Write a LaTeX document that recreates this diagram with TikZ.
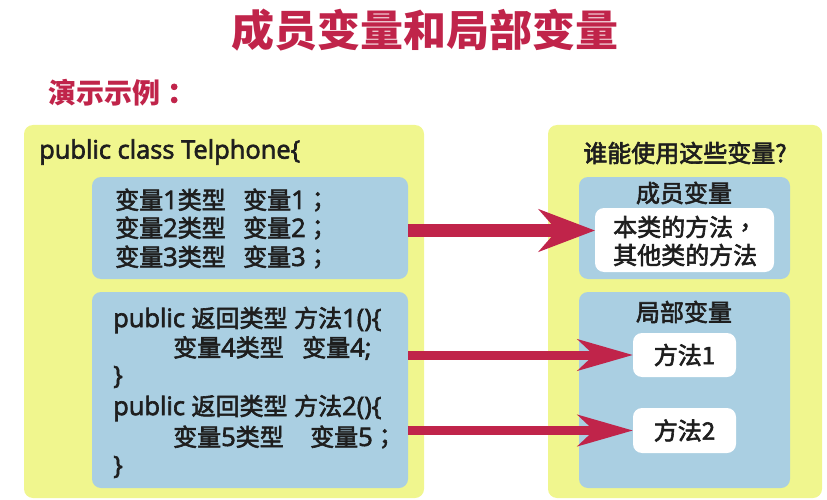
\documentclass[tikz,border=0pt]{standalone}
\usepackage{fontspec}
\setmainfont{Open Sans}[FakeBold=2.5,Scale=1.06]
\newfontfamily\cjk{Noto Sans CJK SC}[FakeBold=2.5]
\newfontfamily\cjktitle{Noto Sans CJK SC}
\newfontfamily\cjkp{Noto Sans CJK TC}[FakeBold=2.5]
\usetikzlibrary{arrows.meta}
\definecolor{crim}{RGB}{192,36,74}
\definecolor{ylw}{RGB}{240,246,142}
\definecolor{blu}{RGB}{170,207,226}
\definecolor{ink}{RGB}{30,30,30}
\newcommand{\zh}[1]{{\cjk #1}}
\newcommand{\zp}[1]{{\cjkp #1}}
\begin{document}
\begin{tikzpicture}[x=1pt,y=-1pt,
  box/.style={rounded corners=9pt, inner sep=0pt, outer sep=0pt},
  panel/.style={box, fill=ylw},
  bluebox/.style={box, fill=blu},
  whitebox/.style={box, fill=white},
  code/.style={anchor=west, inner sep=0pt, text=ink, font=\fontsize{24}{28}\selectfont},
  lbl/.style={inner sep=0pt, text=ink, font=\fontsize{24}{28}\selectfont\cjk},
  bigarrow/.style={draw=crim, line width=13pt, -{Stealth[length=56pt,width=42pt,inset=18pt]}},
  smallarrow/.style={draw=crim, line width=9pt, -{Stealth[length=55pt,width=31pt,inset=16pt]}},
]
\useasboundingbox (0,0) rectangle (827,500);

% title
\node[inner sep=0pt, text=crim, font=\fontsize{43}{48}\selectfont\cjktitle\bfseries] (title) at (425,30) {成员变量和局部变量};
\node[anchor=west, inner sep=0pt, text=crim, font=\fontsize{28}{32}\selectfont\cjktitle\bfseries] (demo) at (48,93) {演示示例\zp{\bfseries ：}};

% panels
\node[panel, minimum width=400pt, minimum height=373pt] (left) at (224,311.5) {};
\node[panel, minimum width=274pt, minimum height=373pt] (right) at (685,311.5) {};
\node[bluebox, minimum width=316pt, minimum height=102pt] (blue1) at (250,228) {};
\node[bluebox, minimum width=316pt, minimum height=196pt] (blue2) at (250,390) {};
\node[bluebox, minimum width=211pt, minimum height=102pt] (blueA) at (684.5,228) {};
\node[bluebox, minimum width=211pt, minimum height=196pt] (blueB) at (684.5,390) {};
\node[whitebox, minimum width=179pt, minimum height=64pt] (w1) at (684.5,240) {};
\node[whitebox, minimum width=103pt, minimum height=44pt] (m1) at (684.5,355) {};
\node[whitebox, minimum width=103pt, minimum height=45pt] (m2) at (684.5,430.5) {};

% left code
\node[code] (cls) at (39,152) {public class Telphone\{};
\node[code] (v1) at (115,200) {\makebox[128pt][l]{\zh{变量}1\zh{类型}}\zh{变量}1\zp{；}};
\node[code] (v2) at (115,228) {\makebox[128pt][l]{\zh{变量}2\zh{类型}}\zh{变量}2\zp{；}};
\node[code] (v3) at (115,257) {\makebox[128pt][l]{\zh{变量}3\zh{类型}}\zh{变量}3\zp{；}};
\node[code] (f1) at (113,320) {public \zh{返回类型} \zh{方法}1()\{};
\node[code] (v4) at (173,348) {\makebox[129pt][l]{\zh{变量}4\zh{类型}}\zh{变量}4;};
\node[code] (c1) at (113,377) {\}};
\node[code] (f2) at (113,408) {public \zh{返回类型} \zh{方法}2()\{};
\node[code] (v5) at (173,437) {\makebox[137pt][l]{\zh{变量}5\zh{类型}}\zh{变量}5\zp{；}};
\node[code] (c2) at (113,467) {\}};

% right labels
\node[lbl] (who) at (685,153) {谁能使用这些变量?};
\node[lbl] (mem) at (684,193) {成员变量};
\node[lbl, anchor=west] (mt1) at (613,227) {本类的方法\zp{，}};
\node[lbl, anchor=west] (mt2) at (613,255) {其他类的方法};
\node[lbl] (loc) at (684,312) {局部变量};
\node[lbl] (m1t) at (m1.center) {方法1};
\node[lbl] (m2t) at (m2.center) {方法2};

% arrows
\coordinate (a1end) at (w1.west |- 0,230.5);
\draw[bigarrow] (blue1.east |- a1end) -- (a1end);
\draw[smallarrow] (blue2.east |- m1.west) -- (m1.west);
\draw[smallarrow] (blue2.east |- m2.west) -- (m2.west);
\end{tikzpicture}
\end{document}
